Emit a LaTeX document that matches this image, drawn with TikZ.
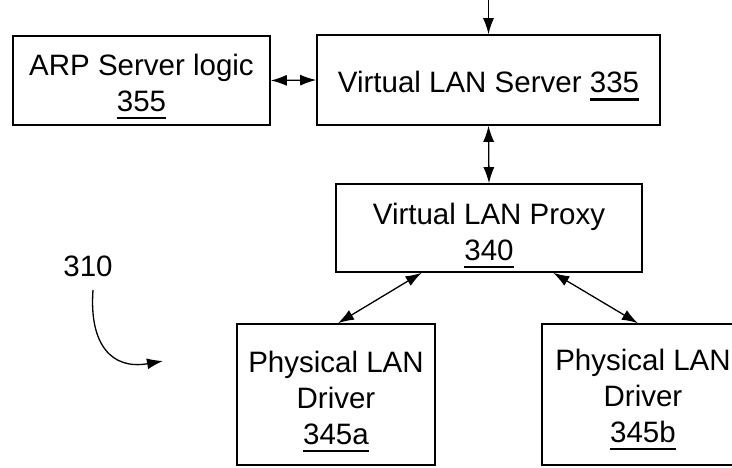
\documentclass[tikz,border=0pt]{standalone}
\usepackage{fontspec}
\setmainfont{Liberation Sans}
\usetikzlibrary{arrows.meta,calc}

% reference numeral with a heavy underline
\newcommand\refnum[1]{\setbox0\hbox{#1}\leavevmode\rlap{\raisebox{-8pt}{\rule{\wd0}{2.4pt}}}\box0}

\tikzset{
  blockbox/.style={draw, line width=1.6pt, rectangle, inner sep=0pt},
  blocktext/.style={align=center, inner sep=0pt, font=\fontsize{29.5}{36}\selectfont},
  link/.style={line width=1.3pt, -{Latex[length=16pt,width=11pt]}},
  bilink/.style={line width=1.3pt, {Latex[length=16pt,width=11pt]}-{Latex[length=16pt,width=11pt]}},
}

\begin{document}
\begin{tikzpicture}[x=1pt,y=-1pt]
  \fill[white] (0,0) rectangle (732,468);
  \useasboundingbox (0,0) rectangle (732,468);

  % blocks
  \node[blockbox, minimum width=257pt, minimum height=89pt] (arp) at (141.5,80.5) {};
  \node[blockbox, minimum width=343pt, minimum height=90pt] (server) at (488.5,80) {};
  \node[blockbox, minimum width=306pt, minimum height=88pt] (proxy) at (489,228) {};
  \node[blockbox, minimum width=198pt, minimum height=141pt] (drvA) at (336,394.5) {};
  \node[blockbox, minimum width=202pt, minimum height=141pt] (drvB) at (643,394.5) {};

  % block captions
  \node[blocktext] (arpT) at ($(arp.center)+(0,6)$) {ARP Server logic\\\refnum{355}};
  \node[blocktext] (serverT) at ($(server.center)+(0,6)$) {Virtual LAN Server \refnum{335}};
  \node[blocktext] (proxyT) at ($(proxy.center)+(0,7.5)$) {Virtual LAN Proxy\\\refnum{340}};
  \node[blocktext] (drvAT) at ($(drvA.center)+(0,7)$) {Physical LAN\\Driver\\\refnum{345a}};
  \node[blocktext] (drvBT) at ($(drvB.center)+(0,5)$) {Physical LAN\\Driver\\\refnum{345b}};

  % connections
  \coordinate (feed) at (488.5,0);
  \draw[link] (feed) -- (server.north);
  \draw[bilink] (arp.east) -- (server.west);
  \draw[bilink] (server.south) -- (proxy.north);
  \draw[bilink] ($(proxy.south west)!0.281!(proxy.south east)$)
             -- ($(drvA.north west)!0.51!(drvA.north east)$);
  \draw[bilink] ($(proxy.south west)!0.709!(proxy.south east)$)
             -- ($(drvB.north west)!0.475!(drvB.north east)$);

  % reference label with curved leader
  \node[font=\fontsize{29.5}{36}\selectfont, inner sep=0pt] (lbl) at (88,266) {310};
  \coordinate (lead0) at (93,290);
  \coordinate (lead1) at (163,361);
  \draw[line width=1.3pt, -{Latex[length=16pt,width=11pt]}]
    (lead0) .. controls (89,345) and (112,370) .. (lead1);
\end{tikzpicture}
\end{document}
